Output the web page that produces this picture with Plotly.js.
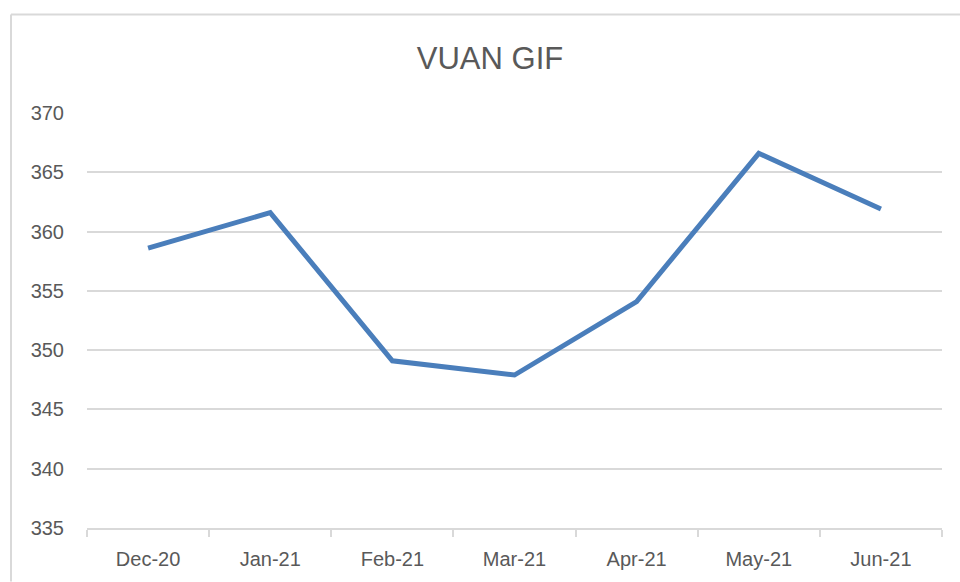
<!DOCTYPE html>
<html>
<head>
<meta charset="utf-8">
<script src="https://cdn.plot.ly/plotly-3.0.1.min.js"></script>
<style>html,body{margin:0;padding:0;background:#fff;}#chart{width:960px;height:582px;}</style>
</head>
<body>
<div id="chart"></div>
<script>
const months = ["Dec-20", "Jan-21", "Feb-21", "Mar-21", "Apr-21", "May-21", "Jun-21"];
const values = [358.6, 361.6, 349.1, 347.9, 354.1, 366.6, 361.9];
const yTicks = [335, 340, 345, 350, 355, 360, 365, 370];
const chartTitle = "VUAN GIF";

const L = 87, R = 18, T = 112.6, B = 53.7;
const W = 960, H = 582;
const pw = W - L - R, ph = H - T - B;
const px = v => (v - L) / pw;
const py = v => (H - B - v) / ph;

const trace = {
  x: months, y: values, type: "scatter", mode: "lines",
  line: {color: "#4a7ebb", width: 5, shape: "linear"},
  hoverinfo: "skip"
};

const layout = {
  width: W, height: H,
  margin: {l: L, r: R, t: T, b: B, pad: 0},
  paper_bgcolor: "#fff", plot_bgcolor: "#fff",
  showlegend: false,
  font: {family: "Liberation Sans, Arial, sans-serif", color: "#595959"},
  title: {text: chartTitle, x: 490 / W, xref: "container", xanchor: "center", y: 1 - 58 / H, yref: "container", yanchor: "middle",
          font: {size: 31, color: "#595959", family: "Liberation Sans, Arial, sans-serif"}},
  xaxis: {
    type: "category", range: [-0.5, 6.5], fixedrange: true,
    showgrid: false, zeroline: false,
    showline: true, linecolor: "#d9d9d9", linewidth: 2,
    ticks: "outside", tickson: "boundaries", ticklen: 7, tickcolor: "#d9d9d9", tickwidth: 2,
    tickfont: {size: 20, color: "#595959"}, ticklabelstandoff: 12
  },
  yaxis: {
    range: [335, 370], tickvals: yTicks, ticktext: yTicks.map(String), fixedrange: true,
    showgrid: true, gridcolor: "#d9d9d9", gridwidth: 2,
    zeroline: false, showline: false, ticks: "",
    tickfont: {size: 20, color: "#595959"}, ticklabelstandoff: 22
  },
  shapes: [
    {type: "line", xref: "paper", yref: "paper", x0: px(11), x1: px(960), y0: py(14), y1: py(14),
     line: {color: "#d9d9d9", width: 2}},
    {type: "line", xref: "paper", yref: "paper", x0: px(11), x1: px(11), y0: py(14), y1: py(582),
     line: {color: "#d9d9d9", width: 2}}
  ]
};

Plotly.newPlot("chart", [trace], layout, {displayModeBar: false, staticPlot: true});
</script>
</body>
</html>
